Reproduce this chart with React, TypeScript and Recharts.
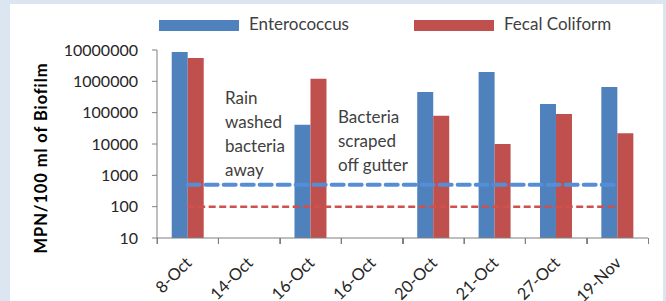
import React from 'react';
import { ComposedChart, Bar, Line, XAxis, YAxis, Legend } from 'recharts';

const dates = ['8-Oct', '14-Oct', '16-Oct', '16-Oct', '20-Oct', '21-Oct', '27-Oct', '19-Nov'];
const enterococcus = [8700000, null, 41000, null, 460000, 2000000, 190000, 660000];
const fecalColiform = [5600000, null, 1200000, null, 80000, 10000, 91000, 22000];
const enteroLimit = [500, 500, 500, 500, 500, 500, 500, 500];
const fecalLimit = [100, 100, 100, 100, 100, 100, 100, 100];
const yTicks = [10, 100, 1000, 10000, 100000, 1000000, 10000000];

const FONT = 'Lato, "Open Sans", sans-serif';
const AXIS = '#7f7f7f';

const W = 666;
const H = 301;
const Y_AXIS_W = 157;
const RIGHT = 18;
const HALF_BAND = (W - Y_AXIS_W - RIGHT) / dates.length / 2;

const data = dates.map((d, i) => ({
  idx: i,
  date: d,
  enterococcus: enterococcus[i],
  fecal: fecalColiform[i],
  enteroLimit: enteroLimit[i],
  fecalLimit: fecalLimit[i],
}));

// rotated label at the category centre; the last category also gets its right edge tick
const XTick = (props: any) => {
  const { x, y, payload, index, visibleTicksCount } = props;
  const half = payload && payload.offset ? payload.offset : HALF_BAND;
  const ax = x + 5;
  const ay = y + 20;
  const left = Math.round(x - half) + 0.5;
  const right = Math.round(x + half) + 0.5;
  return (
    <g>
      <line x1={left} y1={y - 6} x2={left} y2={y} stroke={AXIS} strokeWidth={1} />
      {index === visibleTicksCount - 1 && (
        <line x1={right} y1={y - 6} x2={right} y2={y} stroke={AXIS} strokeWidth={1} />
      )}
      <text
        x={ax}
        y={ay}
        transform={`rotate(-45, ${ax}, ${ay})`}
        textAnchor="end"
        fontSize={16.5}
        fontFamily={FONT}
        fill="#262626"
      >
        {dates[payload.value]}
      </text>
    </g>
  );
};

const YLabel = () => (
  <text
    x={41}
    y={158}
    transform="rotate(-90, 41, 158)"
    textAnchor="middle"
    dominantBaseline="central"
    fontSize={16.5}
    fontWeight={700}
    letterSpacing={0.9}
    fontFamily={FONT}
    fill="#000000"
  >
    MPN/100 ml of Biofilm
  </text>
);

const LegendContent = (props: any) => {
  const items = (props.payload || []).filter((p: any) => p.type !== 'none');
  const swatchLeft = [159, 414];
  return (
    <div style={{ position: 'relative', width: W, height: 24 }}>
      {items.map((p: any, i: number) => (
        <React.Fragment key={p.value}>
          <div
            style={{
              position: 'absolute',
              left: swatchLeft[i],
              top: 8,
              width: 80,
              height: 11,
              background: p.color,
            }}
          />
          <div
            style={{
              position: 'absolute',
              left: swatchLeft[i] + 90,
              top: 2,
              fontSize: 17,
              fontFamily: FONT,
              color: '#404040',
              whiteSpace: 'nowrap',
              lineHeight: '20px',
            }}
          >
            {p.value}
          </div>
        </React.Fragment>
      ))}
    </div>
  );
};

const noteStyle: React.CSSProperties = {
  position: 'absolute',
  fontSize: 17,
  fontFamily: FONT,
  color: '#404040',
  lineHeight: '24px',
};

export default function App() {
  return (
    <div style={{ position: 'fixed', left: 0, top: 0, width: W, height: H, background: '#dce6f1' }}>
      <div style={{ position: 'absolute', left: 10, top: 4, width: 653, height: 297, background: '#ffffff' }} />
      <div style={{ position: 'absolute', left: 0, top: 0 }}>
        <ComposedChart
          width={W}
          height={H}
          data={data}
          margin={{ top: 50, right: RIGHT, bottom: 0, left: 0 }}
          barCategoryGap="24%"
          barGap={0}
        >
          <XAxis
            dataKey="idx"
            type="category"
            height={63}
            tickSize={6}
            tickMargin={0}
            tickLine={{ stroke: AXIS, transform: `translate(${-HALF_BAND}, 0)` }}
            axisLine={{ stroke: AXIS }}
            tick={<XTick />}
            interval={0}
          />
          <YAxis
            scale="log"
            domain={[10, 10000000]}
            ticks={yTicks}
            allowDataOverflow
            width={Y_AXIS_W}
            tickSize={5}
            tickMargin={14}
            axisLine={{ stroke: AXIS }}
            tickLine={{ stroke: AXIS }}
            tick={{ fontSize: 16, fontFamily: FONT, fill: '#262626' }}
            label={<YLabel />}
          />
          <Legend
            verticalAlign="middle"
            align="center"
            wrapperStyle={{ top: 12, left: 0, width: W, height: 24 }}
            content={<LegendContent />}
          />
          <Bar dataKey="enterococcus" name="Enterococcus" fill="#4f81bd" isAnimationActive={false} />
          <Bar dataKey="fecal" name="Fecal Coliform" fill="#c0504d" isAnimationActive={false} />
          <Line
            dataKey="enteroLimit"
            stroke="#558ed5"
            strokeWidth={4}
            strokeDasharray="12 6"
            strokeLinecap="round"
            dot={false}
            activeDot={false}
            legendType="none"
            isAnimationActive={false}
          />
          <Line
            dataKey="fecalLimit"
            stroke="#d0504d"
            strokeWidth={2.5}
            strokeDasharray="7 3.5"
            dot={false}
            activeDot={false}
            legendType="none"
            isAnimationActive={false}
          />
        </ComposedChart>
      </div>
      <div style={{ ...noteStyle, left: 225, top: 86 }}>
        Rain
        <br />
        washed
        <br />
        bacteria
        <br />
        away
      </div>
      <div style={{ ...noteStyle, left: 338, top: 105 }}>
        Bacteria
        <br />
        scraped
        <br />
        off gutter
      </div>
    </div>
  );
}
